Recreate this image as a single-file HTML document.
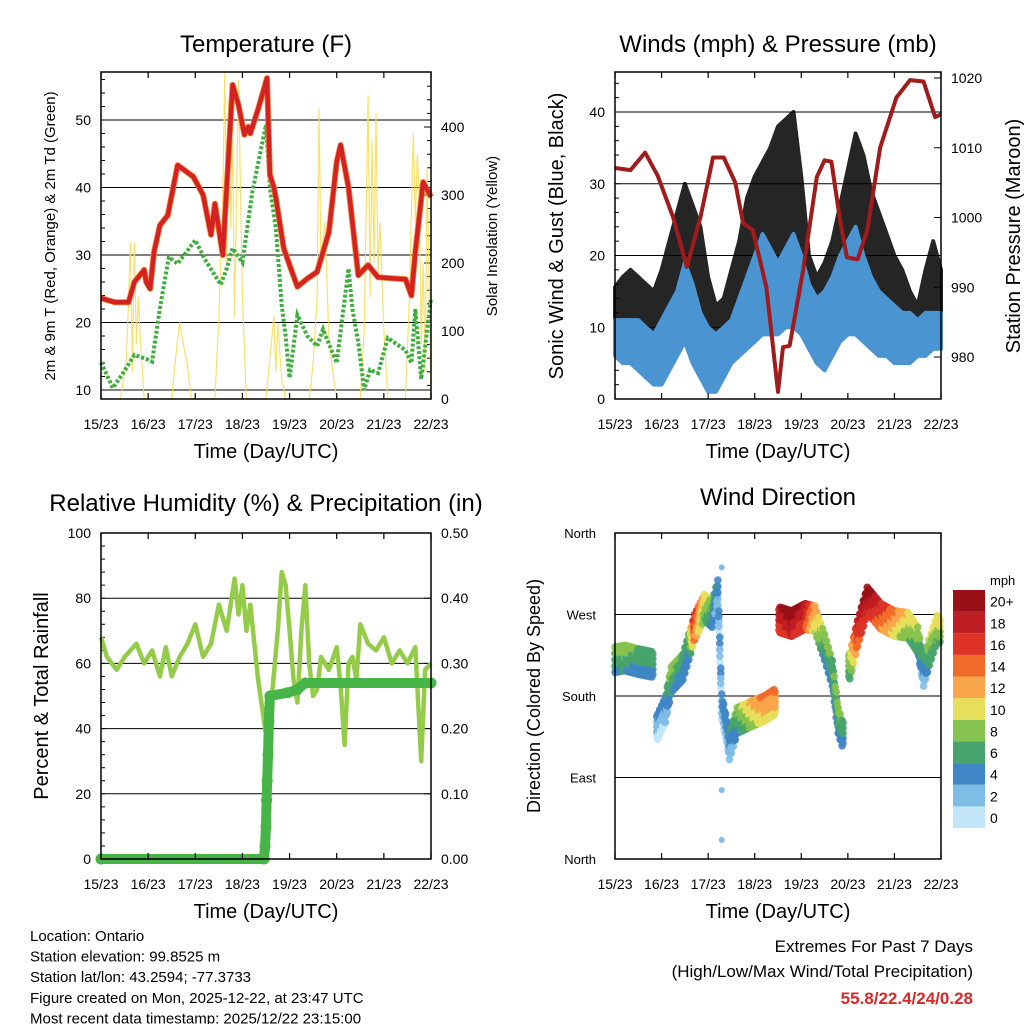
<!DOCTYPE html>
<html><head><meta charset="utf-8"><style>
body{margin:0;background:#fff;width:1024px;height:1024px;overflow:hidden}
svg{font-family:"Liberation Sans",sans-serif}
</style></head><body>
<svg id="s" width="1024" height="1024" viewBox="0 0 1024 1024" xmlns="http://www.w3.org/2000/svg"></svg>
<script>
// ---------- DATA ----------
const dayLabels=["15/23","16/23","17/23","18/23","19/23","20/23","21/23","22/23"];
const tempT=[0,7,14,17,22,23,25,27,30,34,39,47,52,56,58,62,64,67,70,73,75,76,80,84.5,86,88,89,93,96,100,105,110,116,120,122,126,131,136,141,155,158,160,164,168];
const tempV=[23.6,23,23,26,27.8,26,25,30.4,34.4,35.9,43.3,41.6,38.9,33,37.6,30,40,55.2,52.2,47.8,49,48,51.6,56.2,41.9,40,38.5,31,28.5,25.3,26.5,27.5,33.4,43.8,46.3,40,27,28.5,26.7,26.4,24,30.4,40.8,38.6];
const dewT=[0,6,11,17,23,26,30,34.5,39,48,53,61,64,67,72,77,84,86,89,92,94,96,100,105,110,113,120,126,128,131,134,137,141,146,155,158,160,163,168];
const dewV=[14.1,10.3,12.4,15.2,14.6,14.2,22.1,29.7,28.7,32.2,29.3,25.6,28,31,28.9,39.3,49.3,40,34,22.6,18,11.8,21.1,18,16.5,19,14,28,22,17,10,13,12.5,17.7,15.9,14,22,11.6,23.6];
const solT=[10,13,15,16,17,18,19,20,22,36,38,40,42,44,46,58,60,62,63,64,65,66,67,68,70,72,74,84,86,88,89,90,92,94,106,108,110,111,112,114,116,118,120,132,134,136,137,138,139,140,141,142,144,146,155,157,159,160,161,162,163,164,165,166,168];
const solV=[0,60,231,40,230,80,150,90,0,0,60,113,80,50,0,0,120,300,480,200,440,250,380,120,470,150,0,0,60,123,40,110,30,0,0,50,150,428,200,260,90,40,0,0,100,447,150,380,200,420,180,260,100,0,0,150,392,260,360,300,80,200,40,340,0];
const windT=[0,4,8,12,16,20,24,28,32,36,40,44,48,52,56,60,64,68,72,76,80,84,88,92,96,100,104,108,112,116,120,124,128,132,136,140,144,148,152,156,160,164,168];
const gustLo=[9,9,9,9,9,8,7,9,12,16,13,9,6,5,7,9,11,13,15,17,17,17,18,18,16,13,11,9,11,13,15,16,14,13,13,12,11,10,9,9,9,9,10];
const gustHi=[15.6,17,18,17,16,15,18,22,26,30,27,24,17,13,14,18,22,28,31,33,35,38,39,40,31,20,17,19,22,27,32,37,34,29,26,23,20,18,15,13,18,22,18];
const windLo=[6,5,5,4,3,2,2,4,6,8,5,3,1,1,3,5,6,7,8,9,9,9,10,10,9,7,5,4,6,8,9,9,8,7,6,6,5,5,5,6,6,7,7];
const windHi=[11,11,11,11,10,9,11,13,15,19,16,12,10,9,10,11,14,17,20,23,21,19,21,23,20,16,14,15,17,20,22,24,20,17,15,14,13,12,12,11,12,12,12];
const presT=[0,8,15.5,22,30,37,44,50.5,56,62,66,71,78,84,86.6,90,97,104,108,111.5,116,119.5,125,130,136.6,145,152,159,165,168];
const presV=[1007.1,1006.8,1009.3,1006,1000,992.9,1000,1008.6,1008.6,1005,999.2,998.2,990,975,981.4,981.6,992.5,1005.8,1008.2,1008,999.6,994.3,994,998.2,1010,1017.2,1019.7,1019.5,1014.4,1014.8];
const dirT=[0,5,12,19,22,26,29,35,38,41,46,50,53,55,59,63,71,77,82,85,91,98,103,108,112,115,117,121,125,130,137,144,151,156,159,162,166,168];
const dirV=[220,222,218,215,146,165,198,212,234,256,278,270,294,168,124,153,161,166,173,264,260,268,265,234,205,153,139,213,249,286,268,260,258,242,205,228,255,250];
const dirSpd=[7,8,6,6,3,4,8,6,6,16,10,7,4,3,4,7,11,13,13,18,20,18,12,7,6,7,6,8,17,20,16,13,10,8,4,8,10,9];
const dirOutT=[55,55,55,54,54.5];
const dirOutV=[322,76,21,232,200];
const rhT=[0,3,8,12,18,22,26,30,33,36,40,44,48,52,56,60,64,68,70,72,74,76,80,84,87,90,92,94,96,98,100,102,104,106,108,110,112,116,120,122,124,126,128,130,132,136,140,144,148,152,156,160,163,165,168];
const rhV=[68,62,58,62,66,60,64,56,65,56,62,66,72,62,66,78,70,86,75,84,70,78,55,38,50,70,88,84,70,55,48,70,84,60,50,52,62,58,65,53,35,60,62,55,72,66,64,68,60,64,60,65,30,58,60];
const prT=[0,83,83.5,84,84.3,84.6,85,85.5,86,95,100,104,168];
const prV=[0,0,0.02,0.05,0.09,0.12,0.16,0.21,0.25,0.255,0.26,0.27,0.27];
const cbLabels=["0","2","4","6","8","10","12","14","16","18","20+"];
const cbColors=["#c2e5f7","#7fbce6","#3f86c4","#47a46c","#86c24e","#e7df5a","#f9a54a","#f06a2a","#dd3327","#bf1d24","#9a1017"];

// ---------- HELPERS ----------
const S=document.getElementById('s');const NS="http://www.w3.org/2000/svg";
function el(tag,a,parent){const e=document.createElementNS(NS,tag);for(const k in a)e.setAttribute(k,a[k]);(parent||S).appendChild(e);return e;}
function txt(x,y,s,size,anchor,extra){const e=el('text',Object.assign({x:x,y:y,'font-size':size,'text-anchor':anchor||'middle',fill:'#000'},extra||{}));e.textContent=s;return e;}
function lin(d0,d1,r0,r1){return v=>r0+(v-d0)*(r1-r0)/(d1-d0);}
function frame(name){
  const g=el('g',{});
  
  
  return g;
}
function xaxis(g,L,R,T,B){
  const xs=lin(0,7,L,R);
  dayLabels.forEach((d,i)=>{const x=xs(i);
    el('line',{x1:x,y1:B,x2:x,y2:B-6,stroke:'#000','stroke-width':1.2},g);
    el('line',{x1:x,y1:T,x2:x,y2:T+6,stroke:'#000','stroke-width':1.2},g);
    const t=txt(x,B+30,d,14,'middle');
    
    
  });
}
function poly(pts){return pts.map(p=>p[0].toFixed(1)+','+p[1].toFixed(1)).join(' ');}

// ---------- PANEL 1: TEMPERATURE ----------
(function(){
  const L=101,R=431,T=72,B=399;
  const g=frame('temperature-panel');
  const x=lin(0,168,L,R), y=lin(10,50,390,120), ys=lin(0,400,399,127);
  [10,20,30,40,50].forEach(v=>{el('line',{x1:L,x2:R,y1:y(v),y2:y(v),stroke:'#000','stroke-width':1},g);
    const t=txt(91,y(v)+5,String(v),14,'end');});
  for(let v=10;v<=56;v+=2){el('line',{x1:L,x2:L+4,y1:y(v),y2:y(v),stroke:'#000'},g);}
  [0,100,200,300,400].forEach(v=>{el('line',{x1:R,x2:R-7,y1:ys(v),y2:ys(v),stroke:'#000'},g);
    const t=txt(441,ys(v)+5,String(v),14,'start');});
  for(let v=0;v<=460;v+=20){el('line',{x1:R,x2:R-4,y1:ys(v),y2:ys(v),stroke:'#000'},g);}
  const sol=el('polyline',{points:poly(solT.map((t,i)=>[x(t),ys(solV[i])])),fill:'none',stroke:'#f7dc52','stroke-width':1.2,opacity:0.85},g);
  
  const dew=el('polyline',{points:poly(dewT.map((t,i)=>[x(t),y(dewV[i])])),fill:'none',stroke:'#3fae3f','stroke-width':4,'stroke-dasharray':'3 2'},g);
  
  const tmpO=el('polyline',{points:poly(tempT.map((t,i)=>[x(t),y(tempV[i])])),fill:'none',stroke:'#f08a3a','stroke-width':6,'stroke-linejoin':'round'},g);
  
  const tmp=el('polyline',{points:poly(tempT.map((t,i)=>[x(t),y(tempV[i])])),fill:'none',stroke:'#d42222','stroke-width':4.5,'stroke-linejoin':'round'},g);
  
  el('rect',{x:L,y:T,width:R-L,height:B-T,fill:'none',stroke:'#000','stroke-width':1.5},g);
  xaxis(g,L,R,T,B);
  let t=txt(266,52,'Temperature (F)',24);
  t=txt(266,458,'Time (Day/UTC)',20);
  t=txt(0,0,'2m & 9m T (Red, Orange) & 2m Td (Green)',15,'middle',{transform:'translate(55,236) rotate(-90)'});
  t=txt(0,0,'Solar Insolation (Yellow)',15,'middle',{transform:'translate(497,236) rotate(-90)'});
})();

// ---------- PANEL 2: WINDS ----------
(function(){
  const L=615,R=941,T=72,B=399;
  const g=frame('winds-panel');
  const x=lin(0,168,L,R), y=lin(0,40,399,112), yp=lin(980,1020,357,78);
  [10,20,30,40].forEach(v=>el('line',{x1:L,x2:R,y1:y(v),y2:y(v),stroke:'#000'},g));
  [0,10,20,30,40].forEach(v=>{const t=txt(605,y(v)+5,String(v),14,'end');});
  for(let v=0;v<=45;v+=2){el('line',{x1:L,x2:L+4,y1:y(v),y2:y(v),stroke:'#000'},g);}
  [980,990,1000,1010,1020].forEach(v=>{el('line',{x1:R,x2:R-7,y1:yp(v),y2:yp(v),stroke:'#000'},g);
    const t=txt(951,yp(v)+5,String(v),14,'start');});
  const band=(lo,hi,col,op,name)=>{const pts=windT.map((t,i)=>[x(t),y(hi[i])]).concat(windT.map((t,i)=>[x(t),y(lo[i])]).reverse());
    const p=el('polygon',{points:poly(pts),fill:col,opacity:op,stroke:col,'stroke-width':4,'stroke-linejoin':'round'},g);
    };
  band(gustLo,gustHi,'#000',0.85,'gust-scatter');
  band(windLo,windHi,'#4a94d2',1,'wind-speed-scatter');
  const p=el('polyline',{points:poly(presT.map((t,i)=>[x(t),yp(presV[i])])),fill:'none',stroke:'#a01c1c','stroke-width':4,'stroke-linejoin':'round'},g);
  
  el('rect',{x:L,y:T,width:R-L,height:B-T,fill:'none',stroke:'#000','stroke-width':1.5},g);
  xaxis(g,L,R,T,B);
  let t=txt(778,52,'Winds (mph) & Pressure (mb)',24);
  t=txt(778,458,'Time (Day/UTC)',20);
  t=txt(0,0,'Sonic Wind & Gust (Blue, Black)',20,'middle',{transform:'translate(563,236) rotate(-90)'});
  t=txt(0,0,'Station Pressure (Maroon)',20,'middle',{transform:'translate(1020,236) rotate(-90)'});
})();

// ---------- PANEL 3: HUMIDITY ----------
(function(){
  const L=101,R=431,T=533,B=859;
  const g=frame('humidity-panel');
  const x=lin(0,168,L,R), y=lin(0,100,B,T), yp=lin(0,0.5,B,T);
  [0,20,40,60,80,100].forEach(v=>{el('line',{x1:L,x2:R,y1:y(v),y2:y(v),stroke:'#000'},g);
    const t=txt(91,y(v)+5,String(v),14,'end');});
  for(let v=0;v<=100;v+=4){el('line',{x1:L,x2:L+4,y1:y(v),y2:y(v),stroke:'#000'},g);}
  [0,0.1,0.2,0.3,0.4,0.5].forEach(v=>{el('line',{x1:R,x2:R-7,y1:yp(v),y2:yp(v),stroke:'#000'},g);
    const t=txt(441,yp(v)+5,v.toFixed(2),14,'start');});
  const rh=el('polyline',{points:poly(rhT.map((t,i)=>[x(t),y(rhV[i])])),fill:'none',stroke:'#94cc4a','stroke-width':4.5,'stroke-linejoin':'round'},g);
  
  const pr=el('polyline',{points:poly(prT.map((t,i)=>[x(t),yp(prV[i])])),fill:'none',stroke:'#46b446','stroke-width':10,'stroke-linecap':'round','stroke-linejoin':'round'},g);
  
  prT.forEach((t,i)=>{const c=el('circle',{cx:x(t),cy:yp(prV[i]),r:5.5,fill:'#46b446'},g);
    
    });
  el('rect',{x:L,y:T,width:R-L,height:B-T,fill:'none',stroke:'#000','stroke-width':1.5},g);
  xaxis(g,L,R,T,B);
  let t=txt(266,511,'Relative Humidity (%) & Precipitation (in)',24);
  t=txt(266,918,'Time (Day/UTC)',20);
  t=txt(0,0,'Percent & Total Rainfall',20,'middle',{transform:'translate(48,696) rotate(-90)'});
})();

// ---------- PANEL 4: WIND DIRECTION ----------
(function(){
  const L=615,R=941,T=533,B=859;
  const g=frame('wind-direction-panel');
  const x=lin(0,168,L,R), y=lin(0,360,B,T);
  const col=s=>cbColors[Math.min(10,Math.max(0,Math.floor(s/2)))];
  [[0,'North'],[90,'East'],[180,'South'],[270,'West'],[360,'North']].forEach(([v,n])=>{
    el('line',{x1:L,x2:R,y1:y(v),y2:y(v),stroke:'#000'},g);
    const t=txt(596,y(v)+5,n,13,'end');});
  const offs=[-14,-7,0,7,14];
  for(let i=0;i<dirT.length-1;i++){
    const jump=Math.abs(dirV[i+1]-dirV[i])>60 && dirT[i]!==53;
    const n=Math.max(2,Math.round((dirT[i+1]-dirT[i])*2));
    for(let k=0;k<n;k++){const f=k/n;
      if(jump && f>0.2 && f<0.8) continue;
      const ff=jump?(f<0.5?0:1):f;
      const t=dirT[i]+(dirT[i+1]-dirT[i])*f;
      const v=dirV[i]+(dirV[i+1]-dirV[i])*ff;
      const s=dirSpd[i]+(dirSpd[i+1]-dirSpd[i])*ff;
      offs.forEach((o,j)=>{const c=el('circle',{cx:x(t),cy:y(v+o*((k%2)?0.8:1)),r:3.8,fill:col(s+(j-2)*0.9),opacity:0.9},g);
        
        });
    }
  }
  dirOutT.forEach((t,i)=>{const c=el('circle',{cx:x(t),cy:y(dirOutV[i]),r:3,fill:cbColors[1]},g);
    
    });
  el('rect',{x:L,y:T,width:R-L,height:B-T,fill:'none',stroke:'#000','stroke-width':1.5},g);
  xaxis(g,L,R,T,B);
  const cb=el('g',{});
  
  
  const cy=lin(0,11,828,590);
  cbColors.forEach((c,i)=>{el('rect',{x:953,y:cy(i+1),width:32,height:cy(i)-cy(i+1),fill:c},cb);
    const t=txt(990,cy(i)-5,cbLabels[i],14,'start',{});cb.appendChild(t);});
  let t=txt(990,585,'mph',13,'start');
  t=txt(778,505,'Wind Direction',24);
  t=txt(778,918,'Time (Day/UTC)',20);
  t=txt(0,0,'Direction (Colored By Speed)',18,'middle',{transform:'translate(540,696) rotate(-90)'});
})();

// ---------- FOOTER ----------
["Location: Ontario","Station elevation: 99.8525 m","Station lat/lon: 43.2594; -77.3733","Figure created on Mon, 2025-12-22, at 23:47 UTC","Most recent data timestamp: 2025/12/22 23:15:00"].forEach((s,i)=>{
  const t=txt(30,941+i*20.6,s,15,'start');
  
  
});
let f=txt(973,952,'Extremes For Past 7 Days',17,'end');
f=txt(973,977,'(High/Low/Max Wind/Total Precipitation)',17,'end');
f=txt(973,1004,'55.8/22.4/24/0.28',17,'end',{fill:'#d42a2a','font-weight':'bold'});
</script>
</body></html>
